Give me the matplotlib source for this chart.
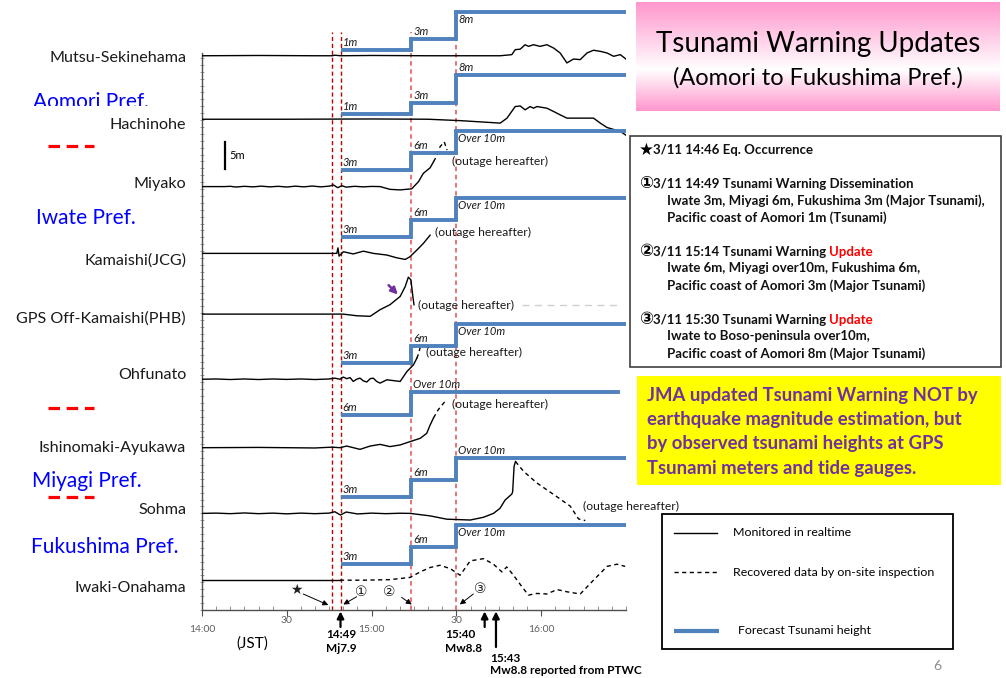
import numpy as np
import matplotlib
matplotlib.use('Agg')
import matplotlib.pyplot as plt
from matplotlib.patches import Rectangle
from matplotlib.transforms import Bbox, TransformedBbox

plt.rcParams['font.family'] = ['Lato', 'DejaVu Sans']

# time axis: minutes after 14:00 JST, heights in metres
STATIONS = ['Mutsu-Sekinehama', 'Hachinohe', 'Miyako', 'Kamaishi(JCG)', 'GPS Off-Kamaishi(PHB)',
            'Ohfunato', 'Ishinomaki-Ayukawa', 'Sohma', 'Iwaki-Onahama']
BASE = [100.4, 88.9, 76.7, 64.6, 53.6, 41.8, 29.4, 17.5, 5.4]
LABEL_Y = [100.2, 88.2, 77.4, 63.6, 53.1, 42.9, 29.6, 18.3, 4.3]

XTICKS = [0, 30, 60, 90, 120]
XTICKLABELS = ['14:00', '30', '15:00', '30', '16:00']

EVENTS = [46, 49, 74, 90]          # 14:46 quake, 14:49 / 15:14 / 15:30 warnings
EVENT_TOP = [104.7, 104.7, 104.7, 108.3]

# observed traces (solid = realtime, dashed = recovered)
MUTSU_T = [0, 20, 40, 46, 47, 49, 60, 80, 100, 105.5, 109.6, 110.8, 112.6, 114.3, 115.5, 117.3, 119.6, 122,
           124.4, 126.7, 129.1, 131.4, 133.8, 136.2, 138.5, 140.9, 143.3, 145.6, 148, 150]
MUTSU_H = [0, 0.05, 0, 0, 0.1, 0, 0.05, 0, 0, 0, 0.2, 1.1, 1.2, 2.0, 1.7, 2.0, 1.7, 2.0, 1.4, 0.5, -1.3,
           -0.6, -0.7, 0.5, 1.0, 0.8, 0.5, -0.1, 0.2, -0.6]
HACHI_T = [0, 30, 60, 80, 91.3, 105.5, 107.9, 110.8, 112.6, 114.3, 116.1, 117.3, 118.5, 122, 124.4, 126.7,
           129.1, 133.8, 138.5, 140.9, 143.3, 148, 150]
HACHI_H = [0, 0, 0.05, 0, -0.25, -0.7, 0.2, 2.3, 2.4, 1.7, 2.3, 2.0, 2.3, 2.0, 1.4, 0.8, 0.2, 0.2, 0.2,
           -0.7, -1.5, -2.2, -2.9]
MIYAKO_T = [0, 8, 10, 12, 15, 18, 21, 24, 27, 30, 33, 36, 39, 42, 45, 46.5, 48, 49.5, 51, 54, 57, 60, 63,
            66.5, 70.1, 74.2, 76.6, 78.3, 80.7, 81.9]
MIYAKO_H = [0, 0, 0.05, -0.08, 0.05, -0.05, 0.08, -0.05, 0.05, -0.08, 0.08, -0.05, 0.1, -0.05, 0.08, 0.3,
            -0.2, 0.15, -0.1, 0.05, -0.05, 0.03, 0, -0.5, -0.6, -0.4, 0.9, 2.4, 3.4, 4.5]
MIYAKO_DT = [81.9, 83.0, 84.2, 85.7, 86.7]
MIYAKO_DH = [4.5, 5.5, 7.2, 8.1, 6.6]
KAMA_T = [0, 30, 47.7, 48.1, 48.5, 50, 53.5, 57.1, 60.6, 65.4, 68.9, 71.9, 73.6, 76, 78.3, 80.7]
KAMA_H = [0, 0, 0, 1.0, -0.5, 0.3, -0.1, 0.4, 0, -0.3, -0.8, -1.1, -0.6, 0.6, 1.8, 3.3]
GPS_T = [0, 30, 49.9, 54.8, 59.5, 63, 66.5, 70.1, 71.9, 73, 73.9, 74.6, 75]
GPS_H = [0, 0, 0, -0.3, -0.4, 0.8, 1.7, 3.2, 5.0, 6.7, 6.2, 3.2, 1.7]
OHFU_T = [0, 5, 10, 15, 20, 25, 30, 35, 40, 45, 47, 48.8, 50, 51.2, 52.4, 53.5, 54.7, 55.9, 57.1, 58.3,
          59.5, 60.6, 61.8, 63, 65.4, 70.1, 72.5, 74.8, 76]
OHFU_H = [0, 0.05, -0.05, 0.05, -0.05, 0.05, -0.03, 0.05, -0.05, 0.05, 0.2, 0, 0.4, 0.1, 0.3, -0.4, 0,
          0.2, -0.3, -0.5, 0.1, 0.2, -0.4, -0.7, -0.1, -0.4, 1.4, 2.6, 3.8]
OHFU_DT = [76, 76.6, 77.2]
OHFU_DH = [3.8, 4.6, 5.8]
ISHI_T = [0, 20, 40, 46, 48.8, 51.2, 55.9, 59.5, 63, 66.5, 70.1, 73.6, 77.2, 79.5, 80.7, 81.9]
ISHI_H = [0, 0.05, -0.05, 0.1, 0, 0.3, -0.3, 0.3, 0.6, 0.2, 0.5, 1.1, 1.7, 2.6, 4.1, 5.4]
ISHI_DT = [81.9, 83.6, 86]
ISHI_DH = [5.4, 6.9, 8.4]
SOHMA_T = [0, 5, 10, 15, 20, 25, 30, 35, 40, 45, 47, 49, 51, 55, 60, 65, 70, 73.6, 80.7, 86.6, 94.9, 99.6,
           103.1, 105.4, 107.2, 109.6, 109.9, 110.4, 110.9]
SOHMA_H = [0, 0.05, -0.05, 0.08, -0.05, 0.05, -0.08, 0.05, -0.05, 0.05, 0.3, -0.3, 0.25, -0.1, 0.05, -0.05,
           0.03, 0, -0.45, -1.05, -1.2, -0.7, 0, 0.9, 2.4, 3.5, 3.9, 8.5, 9.4]
SOHMA_DT = [110.9, 113.8, 118.5, 125.6, 130.3, 133.2, 135.6]
SOHMA_DH = [9.4, 7.6, 5.5, 3.0, 1.3, -1.0, -1.3]
IWAKI_T = [0, 20, 40, 48.8]
IWAKI_H = [0, 0, 0, 0]
IWAKI_DT = [48.8, 57.1, 66.5, 73.6, 77.2, 80.7, 84.2, 87.8, 91.3, 94.9, 99.6, 103.1, 106.1, 107.8, 110.2,
            113.2, 115.5, 118.5, 122, 125.6, 129.1, 133.8, 138.5, 143.3, 146.8, 149.7]
IWAKI_DH = [0, 0, 0.1, 0.5, 1.5, 2.3, 2.7, 2.1, 0.9, 3.5, 3.9, 2.9, 1.5, 2.4, 0.9, -1.2, -2.7, -2.4, -2.5,
            -1.7, -2.1, -2.5, 0, 2.5, 2.9, 2.5]

# forecast tsunami heights (m) issued at 14:49, 15:14, 15:30
FC_T = [49, 74, 90]
FC_VALUES = {0: [1, 3, 8], 1: [1, 3, 8], 2: [3, 6, 10], 3: [3, 6, 10], 5: [3, 6, 10],
             6: [6, 10, 10], 7: [3, 6, 10], 8: [3, 6, 10]}
FC_LABELS = {0: ['1m', '3m', '8m'], 1: ['1m', '3m', '8m'], 2: ['3m', '6m', 'Over 10m'],
             3: ['3m', '6m', 'Over 10m'], 5: ['3m', '6m', 'Over 10m'], 6: ['6m', 'Over 10m', None],
             7: ['3m', '6m', 'Over 10m'], 8: ['3m', '6m', 'Over 10m']}
FC_SIDE = {0: [1, 1, -1], 1: [1, 1, 1], 2: [1, 1, -1], 3: [1, 1, -1], 5: [1, 1, -1], 6: [1, 1, 0],
           7: [1, 1, 1], 8: [1, 1, -1]}
FC_END = {6: 148}

SOLID = [(0, MUTSU_T, MUTSU_H), (1, HACHI_T, HACHI_H), (2, MIYAKO_T, MIYAKO_H), (3, KAMA_T, KAMA_H),
         (4, GPS_T, GPS_H), (5, OHFU_T, OHFU_H), (6, ISHI_T, ISHI_H), (7, SOHMA_T, SOHMA_H),
         (8, IWAKI_T, IWAKI_H)]
DASHED = [(2, MIYAKO_DT, MIYAKO_DH), (5, OHFU_DT, OHFU_DH), (6, ISHI_DT, ISHI_DH),
          (7, SOHMA_DT, SOHMA_DH), (8, IWAKI_DT, IWAKI_DH)]
# where "(outage hereafter)" is written: station, time, height above baseline
OUTAGE = [(2, 88.3, 4.5), (3, 82.4, 3.8), (4, 76.5, 1.5), (5, 79.2, 4.8), (6, 88.3, 7.9), (7, 134.7, 1.2)]

W, H = 1006, 678
fig = plt.figure(figsize=(W / 100, H / 100), dpi=100)
fig.patch.set_facecolor('white')

ax = fig.add_axes([202 / W, 1 - 610 / H, 424 / W, 610 / H])
ax.set_xlim(0, 150)
ax.set_ylim(0, 110.5)
ax.patch.set_alpha(0)
for s in ['top', 'right']:
    ax.spines[s].set_visible(False)
for s in ['left', 'bottom']:
    ax.spines[s].set_color('#505050')
    ax.spines[s].set_linewidth(1.0)
ax.spines['left'].set_bounds(0, 100.9)

ax.set_xticks(XTICKS, XTICKLABELS)
ax.set_xticks(np.arange(0, 151, 5), minor=True)
ax.tick_params(axis='x', which='major', direction='out', length=4, color='#505050',
               labelsize=7.5, labelcolor='#606060', pad=7)
ax.tick_params(axis='x', which='minor', direction='in', length=3, color='#808080', width=0.6)
for i, tk in enumerate(ax.xaxis.get_major_ticks()):
    if XTICKLABELS[i] == '30':
        tk.set_pad(0.5)

ax.set_yticks(LABEL_Y, STATIONS)
ax.set_yticks(np.arange(0, 100.9, 1.25), minor=True)
ax.tick_params(axis='y', which='major', length=0, labelsize=11.6, pad=11.5, labelcolor='#1a1a1a')
ax.tick_params(axis='y', which='minor', direction='inout', length=3, color='#909090', width=0.6)

# event lines
for t, top, c, lw, d in zip(EVENTS, EVENT_TOP, ['#C00000', '#C00000', '#E26B6B', '#E26B6B'],
                            [1.0, 1.0, 1.3, 1.3], [(3, 2), (3, 2), (2.5, 2), (2.5, 2)]):
    ax.plot([t, t], [0, top], color=c, lw=lw, dashes=d, zorder=1)

# traces
for i, tt, hh in SOLID:
    ax.plot(tt, BASE[i] + np.array(hh), color='black', lw=1.0, zorder=3)
for i, tt, hh in DASHED:
    ax.plot(tt, BASE[i] + np.array(hh), color='black', lw=1.0, dashes=(3, 2.5), zorder=3)

# forecast step lines
for i, vals in FC_VALUES.items():
    end = FC_END.get(i, 150)
    xs = FC_T + [end]
    ys = [BASE[i] + v for v in vals] + [BASE[i] + vals[-1]]
    ax.plot(xs, ys, drawstyle='steps-post', color='#4F81BD', lw=2.8, zorder=4,
            solid_joinstyle='miter', solid_capstyle='butt')
    for t, v, lab, side in zip(FC_T, vals, FC_LABELS[i], FC_SIDE[i]):
        if lab is None:
            continue
        ax.annotate(lab, xy=(t, BASE[i] + v), xytext=(2, 7.5 * side), textcoords='offset pixels',
                    ha='left', va='center', fontsize=8, style='italic', color='#1a1a1a', zorder=5)

for i, t, h in OUTAGE:
    ax.text(t, BASE[i] + h, '(outage hereafter)', ha='left', va='center', fontsize=8.7,
            color='#1a1a1a', zorder=5)

# GPS leftover faint dashes
ax.plot([113.1, 148], [BASE[4] + 1.7, BASE[4] + 1.7], color='#cfcfcf', lw=1.0, dashes=(5, 4))
ax.annotate('', xy=(70.0, 56.8), xytext=(65.3, 59.2),
            arrowprops=dict(arrowstyle='-|>', color='#7030A0', lw=1.8, mutation_scale=10))

# 5 m scale bar
ax.plot([8.1, 8.1], [79.8, 84.8], color='black', lw=1.6)
ax.text(9.5, 82.3, '5m', fontsize=8, va='center', ha='left')

# event markers along the time axis
MARKS = [('★', (33.3, 3.6), (35.8, 2.9), (44.7, 0.9)),
         ('①', (56.5, 3.3), (54.7, 2.4), (50.0, 1.0)),
         ('②', (66.3, 3.3), (70.6, 2.3), (74.2, 1.0)),
         ('③', (98.3, 3.8), (96.0, 2.9), (91.2, 1.0))]
for sym, tp, tail, head in MARKS:
    ax.text(tp[0], tp[1], sym, ha='center', va='center', fontsize=10,
            family=['DejaVu Sans'], color='#222222')
    ax.annotate('', xy=head, xytext=tail,
                arrowprops=dict(arrowstyle='-|>', color='black', lw=0.7, mutation_scale=8,
                                shrinkA=0, shrinkB=0))

for t, ln in [(49, 17), (100, 17), (104, 37)]:
    ax.annotate('', xy=(t, 0), xycoords=('data', 'axes fraction'), xytext=(0, -ln),
                textcoords='offset pixels', annotation_clip=False,
                arrowprops=dict(arrowstyle='-|>', color='black', lw=1.6, mutation_scale=10,
                                shrinkA=0, shrinkB=1))

# overlay in pixel coordinates for boxes and free text
ov = fig.add_axes([0, 0, 1, 1], zorder=5)
ov.set_xlim(0, W)
ov.set_ylim(H, 0)
ov.axis('off')
ov.patch.set_alpha(0)

ov.text(341, 634, '14:49', ha='center', va='center', fontsize=8.5, weight='bold')
ov.text(341, 648, 'Mj7.9', ha='center', va='center', fontsize=8.5, weight='bold')
ov.text(445, 634, '15:40', ha='left', va='center', fontsize=8.5, weight='bold')
ov.text(445, 648, 'Mw8.8', ha='left', va='center', fontsize=8.5, weight='bold')
ov.text(490, 659, '15:43', ha='left', va='center', fontsize=8.5, weight='bold')
ov.text(490, 671, 'Mw8.8 reported from PTWC', ha='left', va='center', fontsize=8.5, weight='bold')
ov.text(252, 644, '(JST)', ha='center', va='center', fontsize=11)

# prefecture labels and red separators
pref = [('Aomori Pref.', 33, 102.5), ('Iwate Pref.', 36, 218), ('Miyagi Pref.', 32, 481),
        ('Fukushima Pref.', 31, 547)]
for txt, x, y in pref:
    tx = ov.text(x, y, txt, ha='left', va='center', fontsize=15, color='#0000FF')
    if txt.startswith('Aomori'):
        tx.set_clip_on(True)
        tx.set_clip_box(TransformedBbox(Bbox([[0, 0], [W, 105.5]]), ov.transData))
for y in [146, 408.3, 496.7]:
    ov.plot([48, 94], [y, y], color='#FF0000', lw=2.3, dashes=(3.6, 2.1), solid_capstyle='butt',
            dash_capstyle='butt')

# title box with pink gradient
tax = fig.add_axes([636 / W, 1 - 111 / H, 364 / W, 109 / H], zorder=4)
g = np.linspace(0, 1, 200)
pink = np.array([255, 150, 205]) / 255
white = np.array([1.0, 1.0, 1.0])
w = np.interp(g, [0, 0.62, 1], [0, 1, 0])
grad = pink[None, :] * (1 - w[:, None]) + white[None, :] * w[:, None]
tax.imshow(grad[:, None, :], aspect='auto', extent=[0, 1, 1, 0])
tax.set_xlim(0, 1)
tax.set_ylim(1, 0)
tax.axis('off')
ov.text(818, 44, 'Tsunami Warning Updates', ha='center', va='center', fontsize=20, color='black')
ov.text(818, 78, '(Aomori to Fukushima Pref.)', ha='center', va='center', fontsize=17, color='black')

# event box
ov.add_patch(Rectangle((630, 136), 371, 231, facecolor='white', edgecolor='#404040', lw=1.2))
fs = 9.5
heads = [('★', 150, '3/11 14:46 Eq. Occurrence', None),
         ('①', 183.5, '3/11 14:49 Tsunami Warning Dissemination', None),
         ('②', 251.5, '3/11 15:14 Tsunami Warning ', 'Update'),
         ('③', 319.5, '3/11 15:30 Tsunami Warning ', 'Update')]
for sym, y, txt, red in heads:
    ov.text(646, y, sym, ha='center', va='center', fontsize=12, weight='bold',
            family=['DejaVu Sans'], color='black')
    t = ov.text(653, y, txt, ha='left', va='center', fontsize=fs, weight='bold', color='#111111')
    if red:
        ov.annotate(red, xy=(1, 0), xycoords=t, ha='left', va='bottom', fontsize=fs,
                    weight='bold', color='#FF0000')
body = [(200.5, 'Iwate 3m, Miyagi 6m, Fukushima 3m (Major Tsunami),'),
        (218, 'Pacific coast of Aomori 1m (Tsunami)'),
        (268.5, 'Iwate 6m, Miyagi over10m, Fukushima 6m,'),
        (285.5, 'Pacific coast of Aomori 3m (Major Tsunami)'),
        (336.5, 'Iwate to Boso-peninsula over10m,'),
        (353.5, 'Pacific coast of Aomori 8m (Major Tsunami)')]
for y, txt in body:
    ov.text(667, y, txt, ha='left', va='center', fontsize=fs, weight='bold', color='#111111')

# yellow note
ov.add_patch(Rectangle((637, 376), 364, 109, facecolor='#FFFF00', edgecolor='none'))
note = ['JMA updated Tsunami Warning NOT by', 'earthquake magnitude estimation, but',
        'by observed tsunami heights at GPS', 'Tsunami meters and tide gauges.']
for k, s in enumerate(note):
    ov.text(647, 395 + k * 24.4, s, ha='left', va='center', fontsize=13.3, weight='bold',
            color='#7030A0')

# legend box
ov.add_patch(Rectangle((662, 514), 291, 135, facecolor='white', edgecolor='black', lw=1.3))
ov.plot([674, 717], [533, 533], color='black', lw=1.0)
ov.plot([674, 717], [572, 572], color='black', lw=1.0, dashes=(3, 2.5))
ov.plot([674, 719], [631, 631], color='#4F81BD', lw=3.0, solid_capstyle='butt')
ov.text(733, 533, 'Monitored in realtime', ha='left', va='center', fontsize=8.9)
ov.text(733, 572, 'Recovered data by on-site inspection', ha='left', va='center', fontsize=8.9)
ov.text(738, 631, 'Forecast Tsunami height', ha='left', va='center', fontsize=8.9)

ov.text(937, 666, '6', ha='center', va='center', fontsize=10, color='#8c8c8c')

fig.savefig('out.png', dpi=100)
